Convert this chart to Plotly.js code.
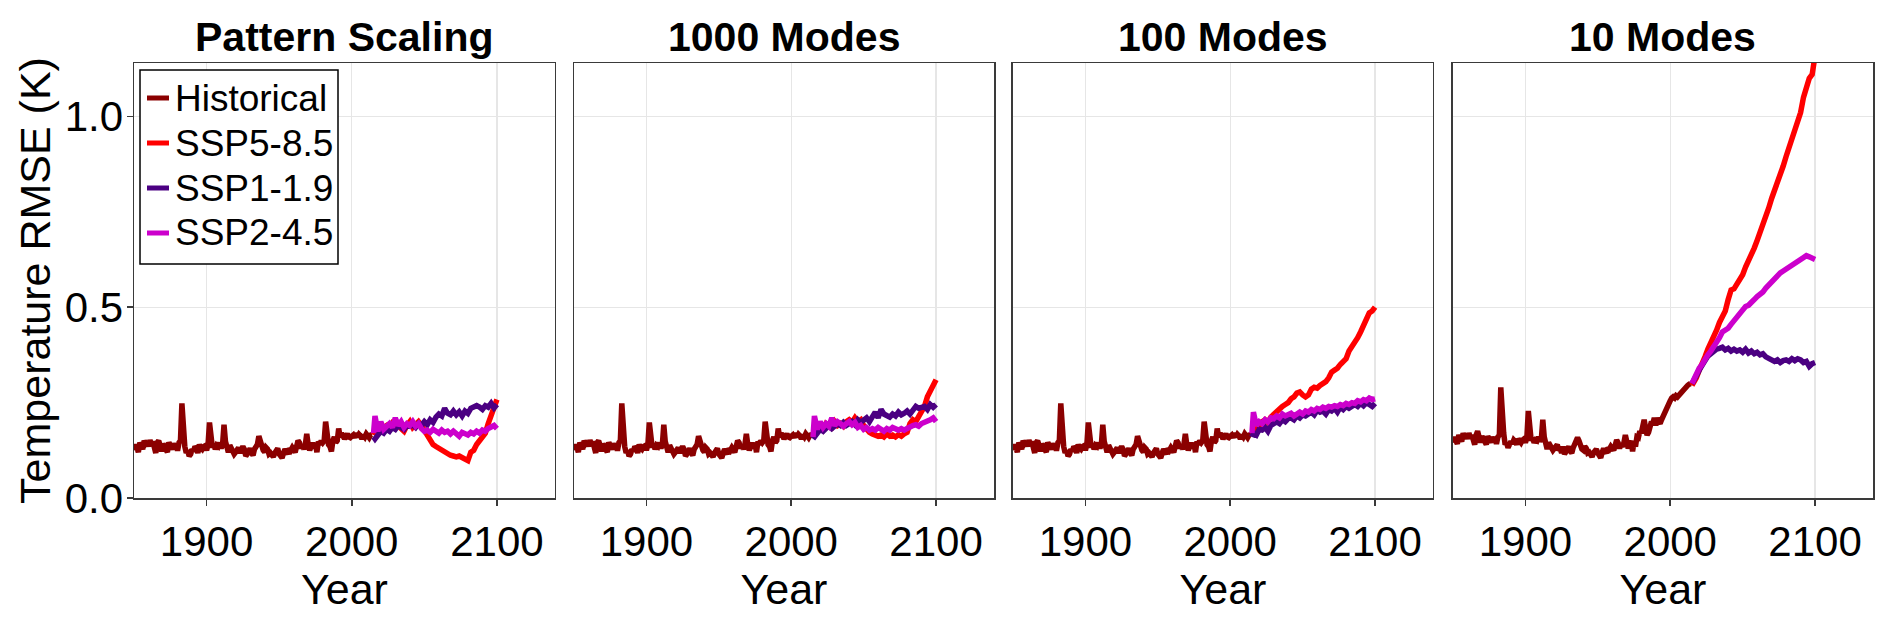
<!DOCTYPE html>
<html>
<head>
<meta charset="utf-8">
<script src="https://cdn.plot.ly/plotly-3.0.1.min.js"></script>
<style>
  html, body { margin: 0; padding: 0; background: #ffffff; }
  #chart { width: 1892px; height: 620px; }
</style>
</head>
<body>
<div id="chart"></div>
<script>
// ---------------- DATA ----------------
const panelTitles = ["Pattern Scaling", "1000 Modes", "100 Modes", "10 Modes"];
const seriesNames = ["Historical", "SSP5-8.5", "SSP1-1.9", "SSP2-4.5"];

const histYears = [
  1850,1851,1852,1853,1854,1855,1856,1857,1858,1859,
  1860,1861,1862,1863,1864,1865,1866,1867,1868,1869,
  1870,1871,1872,1873,1874,1875,1876,1877,1878,1879,
  1880,1881,1882,1883,1884,1885,1886,1887,1888,1889,
  1890,1891,1892,1893,1894,1895,1896,1897,1898,1899,
  1900,1901,1902,1903,1904,1905,1906,1907,1908,1909,
  1910,1911,1912,1913,1914,1915,1916,1917,1918,1919,
  1920,1921,1922,1923,1924,1925,1926,1927,1928,1929,
  1930,1931,1932,1933,1934,1935,1936,1937,1938,1939,
  1940,1941,1942,1943,1944,1945,1946,1947,1948,1949,
  1950,1951,1952,1953,1954,1955,1956,1957,1958,1959,
  1960,1961,1962,1963,1964,1965,1966,1967,1968,1969,
  1970,1971,1972,1973,1974,1975,1976,1977,1978,1979,
  1980,1981,1982,1983,1984,1985,1986,1987,1988,1989,
  1990,1991,1992,1993,1994,1995,1996,1997,1998,1999,
  2000,2001,2002,2003,2004,2005,2006,2007,2008,2009,
  2010,2011,2012,2013,2014
];

// Historical RMSE (Pattern Scaling, 1000 Modes, 100 Modes look identical)
const historicalMain = [
  0.125,0.140,0.132,0.120,0.145,0.138,0.128,0.150,0.142,0.147,
  0.135,0.152,0.140,0.148,0.125,0.118,0.145,0.150,0.138,0.122,
  0.142,0.135,0.128,0.120,0.146,0.138,0.127,0.143,0.132,0.140,
  0.124,0.145,0.150,0.248,0.170,0.135,0.118,0.125,0.110,0.115,
  0.128,0.122,0.135,0.130,0.118,0.140,0.132,0.128,0.135,0.137,
  0.125,0.140,0.198,0.150,0.132,0.142,0.128,0.138,0.135,0.145,
  0.130,0.140,0.192,0.148,0.128,0.120,0.138,0.130,0.125,0.115,
  0.120,0.128,0.132,0.118,0.125,0.135,0.128,0.110,0.115,0.125,
  0.130,0.118,0.112,0.128,0.135,0.140,0.162,0.148,0.130,0.125,
  0.120,0.132,0.128,0.115,0.118,0.112,0.108,0.118,0.125,0.130,
  0.115,0.110,0.105,0.118,0.128,0.122,0.115,0.130,0.125,0.132,
  0.128,0.120,0.135,0.150,0.145,0.130,0.138,0.128,0.140,0.168,
  0.140,0.125,0.135,0.145,0.130,0.142,0.120,0.148,0.140,0.150,
  0.145,0.150,0.200,0.168,0.140,0.135,0.122,0.150,0.160,0.145,
  0.150,0.182,0.160,0.170,0.165,0.155,0.162,0.168,0.160,0.158,
  0.162,0.165,0.158,0.170,0.160,0.167,0.163,0.155,0.165,0.160,
  0.168,0.162,0.158,0.165,0.166
];

// Historical RMSE, 10 Modes
const historical10 = [
  0.145,0.160,0.150,0.142,0.165,0.158,0.148,0.170,0.160,0.165,
  0.155,0.170,0.158,0.165,0.145,0.140,0.165,0.175,0.160,0.145,
  0.162,0.155,0.148,0.140,0.162,0.155,0.145,0.160,0.150,0.158,
  0.142,0.160,0.165,0.290,0.200,0.170,0.140,0.145,0.132,0.138,
  0.148,0.142,0.152,0.148,0.140,0.155,0.150,0.145,0.152,0.155,
  0.145,0.158,0.228,0.168,0.150,0.158,0.145,0.152,0.150,0.160,
  0.148,0.155,0.205,0.160,0.140,0.128,0.145,0.138,0.132,0.125,
  0.130,0.136,0.140,0.125,0.130,0.118,0.135,0.115,0.120,0.130,
  0.135,0.122,0.118,0.132,0.140,0.145,0.158,0.150,0.135,0.128,
  0.125,0.135,0.130,0.118,0.120,0.112,0.108,0.118,0.125,0.128,
  0.118,0.110,0.105,0.120,0.130,0.122,0.118,0.132,0.128,0.135,
  0.132,0.125,0.138,0.152,0.145,0.130,0.140,0.135,0.145,0.165,
  0.148,0.130,0.140,0.150,0.122,0.148,0.135,0.160,0.158,0.175,
  0.170,0.198,0.205,0.182,0.165,0.172,0.185,0.200,0.195,0.210,
  0.190,0.210,0.200,0.195,0.205,0.215,0.225,0.235,0.245,0.250,
  0.255,0.262,0.265,0.262,0.268,0.265,0.270,0.272,0.275,0.280,
  0.285,0.290,0.295,0.298,0.300
];

const scenYears = [
  2015,2016,2018,2020,2022,2024,2026,2028,2030,2032,2034,
  2036,2038,2040,2042,2044,2046,2048,2050,2052,2054,2056,
  2058,2060,2062,2064,2066,2068,2070,2072,2074,2076,2078,
  2080,2082,2084,2086,2088,2090,2092,2094,2096,2098,2100
];

// Pattern Scaling
const psSSP585 = [
  0.165,0.175,0.190,0.180,0.185,0.190,0.178,0.195,0.188,0.190,0.182,
  0.175,0.190,0.200,0.185,0.195,0.200,0.190,0.178,0.165,0.150,0.140,
  0.135,0.130,0.125,0.118,0.115,0.112,0.110,0.108,0.110,0.105,0.100,
  0.098,0.120,0.125,0.140,0.150,0.162,0.170,0.195,0.220,0.245,0.258
];
const psSSP119 = [
  0.160,0.155,0.165,0.175,0.170,0.180,0.175,0.185,0.180,0.190,0.185,
  0.180,0.190,0.188,0.192,0.185,0.195,0.190,0.200,0.192,0.205,0.198,
  0.212,0.220,0.215,0.235,0.222,0.218,0.228,0.218,0.226,0.215,0.228,
  0.222,0.235,0.240,0.242,0.238,0.232,0.242,0.238,0.248,0.236,0.245
];
const psSSP245 = [
  0.170,0.215,0.175,0.200,0.180,0.190,0.195,0.185,0.210,0.190,0.200,
  0.185,0.195,0.190,0.200,0.188,0.195,0.182,0.175,0.178,0.172,0.180,
  0.175,0.170,0.178,0.172,0.175,0.168,0.175,0.170,0.162,0.172,0.168,
  0.165,0.172,0.168,0.175,0.170,0.178,0.175,0.182,0.185,0.190,0.182
];

// 1000 Modes
const m1000SSP585 = [
  0.170,0.175,0.185,0.190,0.180,0.195,0.190,0.185,0.200,0.190,0.195,
  0.188,0.200,0.205,0.198,0.210,0.200,0.205,0.190,0.180,0.172,0.168,
  0.165,0.162,0.165,0.160,0.168,0.162,0.165,0.160,0.166,0.162,0.168,
  0.172,0.195,0.205,0.200,0.215,0.225,0.240,0.265,0.282,0.295,0.310
];
const m1000SSP119 = [
  0.155,0.160,0.175,0.180,0.175,0.185,0.190,0.182,0.188,0.195,0.190,
  0.198,0.190,0.195,0.200,0.192,0.205,0.198,0.205,0.210,0.200,0.215,
  0.225,0.210,0.232,0.220,0.215,0.212,0.220,0.215,0.225,0.218,0.222,
  0.228,0.220,0.232,0.240,0.235,0.238,0.240,0.232,0.245,0.238,0.245
];
const m1000SSP245 = [
  0.160,0.215,0.180,0.200,0.185,0.195,0.188,0.210,0.190,0.200,0.195,
  0.188,0.195,0.200,0.192,0.198,0.185,0.190,0.180,0.185,0.178,0.182,
  0.178,0.185,0.180,0.175,0.182,0.178,0.185,0.180,0.178,0.182,0.178,
  0.182,0.188,0.190,0.192,0.188,0.195,0.198,0.200,0.205,0.210,0.200
];

// 100 Modes
const m100SSP585 = [
  0.165,0.170,0.182,0.190,0.200,0.205,0.198,0.212,0.220,0.228,0.235,
  0.240,0.245,0.250,0.260,0.265,0.275,0.278,0.270,0.265,0.270,0.285,
  0.290,0.288,0.295,0.300,0.305,0.315,0.330,0.335,0.340,0.350,0.360,
  0.365,0.385,0.395,0.405,0.420,0.435,0.450,0.465,0.485,0.490,0.500
];
const m100SSP119 = [
  0.160,0.170,0.165,0.180,0.178,0.185,0.175,0.190,0.195,0.200,0.195,
  0.205,0.200,0.208,0.210,0.205,0.215,0.210,0.218,0.215,0.220,0.225,
  0.218,0.230,0.225,0.228,0.220,0.232,0.228,0.235,0.225,0.238,0.232,
  0.240,0.235,0.242,0.245,0.240,0.248,0.242,0.250,0.245,0.240,0.248
];
const m100SSP245 = [
  0.170,0.225,0.190,0.200,0.195,0.205,0.200,0.210,0.208,0.215,0.210,
  0.220,0.215,0.218,0.222,0.215,0.220,0.225,0.220,0.228,0.225,0.232,
  0.228,0.235,0.232,0.238,0.235,0.240,0.238,0.242,0.240,0.245,0.242,
  0.248,0.245,0.250,0.248,0.255,0.252,0.258,0.255,0.262,0.258,0.260
];

// 10 Modes
const m10SSP585 = [
  0.295,0.300,0.315,0.335,0.350,0.370,0.390,0.405,0.420,0.440,0.460,
  0.475,0.490,0.520,0.545,0.548,0.560,0.570,0.585,0.605,0.620,0.640,
  0.655,0.675,0.695,0.715,0.740,0.760,0.785,0.805,0.820,0.840,0.870,
  0.895,0.920,0.945,0.965,0.985,1.010,1.050,1.075,1.100,1.110,1.160
];
const m10SSP119 = [
  0.300,0.305,0.320,0.335,0.345,0.360,0.372,0.378,0.385,0.390,0.392,
  0.395,0.388,0.392,0.385,0.390,0.385,0.388,0.382,0.390,0.380,0.385,
  0.378,0.382,0.375,0.378,0.370,0.365,0.360,0.358,0.362,0.355,0.360,
  0.362,0.358,0.365,0.360,0.365,0.362,0.355,0.358,0.345,0.352,0.355
];
const m10SSP245 = [
  0.300,0.310,0.325,0.340,0.350,0.365,0.375,0.385,0.395,0.410,0.420,
  0.435,0.440,0.445,0.455,0.465,0.478,0.488,0.495,0.502,0.505,0.515,
  0.520,0.528,0.532,0.540,0.550,0.558,0.570,0.578,0.582,0.590,0.595,
  0.600,0.605,0.610,0.615,0.620,0.625,0.630,0.635,0.632,0.628,0.625
];

const xTickVals = [1900, 2000, 2100];
const yTickVals = [0, 0.5, 1.0];
const yTickText = ["0.0", "0.5", "1.0"];

// ---------------- STYLE ----------------
const colors = ["#8B0000", "#FF0000", "#4B0082", "#CC00CC"];
const FONT = "Liberation Sans, Arial, Helvetica, sans-serif";
const AXIS_COLOR = "#3a3a3a";

const panelData = [
  [historicalMain, psSSP585, psSSP119, psSSP245],
  [historicalMain, m1000SSP585, m1000SSP119, m1000SSP245],
  [historicalMain, m100SSP585, m100SSP119, m100SSP245],
  [historical10, m10SSP585, m10SSP119, m10SSP245]
];

// plot area: left 134, right 19, top 63, bottom 122  -> 1739 x 435
const PW = 1739, PH = 435, PL = 134, PT = 63;
const px = v => (v - PL) / PW;
const py = v => 1 - (v - PT) / PH;
const xDomains = [[0, 0.24209], [0.25302, 0.49454], [0.50546, 0.74698], [0.75848, 1]];

const traces = [];
panelData.forEach((series, p) => {
  const xa = p === 0 ? "x" : "x" + (p + 1);
  const ya = p === 0 ? "y" : "y" + (p + 1);
  series.forEach((vals, s) => {
    traces.push({
      type: "scatter",
      mode: "lines",
      x: s === 0 ? histYears : scenYears,
      y: vals,
      name: seriesNames[s],
      showlegend: false,
      xaxis: xa,
      yaxis: ya,
      line: { color: colors[s], width: 5.5, shape: "linear" }
    });
  });
});

const layout = {
  width: 1892,
  height: 620,
  paper_bgcolor: "#ffffff",
  plot_bgcolor: "#ffffff",
  margin: { l: PL, r: 19, t: PT, b: 122, pad: 0 },
  font: { family: FONT, size: 42, color: "#000000" },
  showlegend: false,
  annotations: [],
  shapes: [],
  hovermode: false
};

for (let p = 0; p < 4; p++) {
  const xk = p === 0 ? "xaxis" : "xaxis" + (p + 1);
  const yk = p === 0 ? "yaxis" : "yaxis" + (p + 1);
  const yname = p === 0 ? "y" : "y" + (p + 1);
  const xname = p === 0 ? "x" : "x" + (p + 1);
  layout[xk] = {
    domain: xDomains[p],
    anchor: yname,
    range: [1850, 2140],
    tickmode: "array",
    tickvals: xTickVals,
    ticks: "outside",
    ticklen: 6,
    tickwidth: 1.5,
    tickcolor: AXIS_COLOR,
    showline: true,
    mirror: true,
    linecolor: AXIS_COLOR,
    linewidth: 1.5,
    showgrid: true,
    gridcolor: "#e6e6e6",
    gridwidth: 1.2,
    zeroline: false,
    tickfont: { family: FONT, size: 42, color: "#000000" },
    title: { text: "Year", font: { family: FONT, size: 43, color: "#000000" }, standoff: 6 },
    automargin: false
  };
  layout[yk] = {
    domain: [0, 1],
    anchor: xname,
    range: [0, 1.14],
    tickmode: "array",
    tickvals: yTickVals,
    ticktext: yTickText,
    ticks: p === 0 ? "outside" : "",
    ticklen: 6,
    tickwidth: 1.5,
    tickcolor: AXIS_COLOR,
    showticklabels: p === 0,
    ticklabelstandoff: -5,
    showline: true,
    mirror: true,
    linecolor: AXIS_COLOR,
    linewidth: 1.5,
    showgrid: true,
    gridcolor: "#e6e6e6",
    gridwidth: 1.2,
    zeroline: false,
    tickfont: { family: FONT, size: 42, color: "#000000" },
    title: p === 0 ? { text: "Temperature RMSE (K)", font: { family: FONT, size: 43, color: "#000000" }, standoff: 0 } : { text: "" },
    automargin: false
  };
  layout.annotations.push({
    text: "<b>" + panelTitles[p] + "</b>",
    xref: "paper", yref: "paper",
    x: (xDomains[p][0] + xDomains[p][1]) / 2,
    y: 1.0609,
    xanchor: "center", yanchor: "middle",
    showarrow: false,
    font: { family: FONT, size: 41, color: "#000000" }
  });
}

// ---- legend (panel 1, top-left), drawn as box + line samples + text ----
layout.shapes.push({
  type: "rect", xref: "paper", yref: "paper",
  x0: px(140), x1: px(338), y0: py(264), y1: py(70),
  fillcolor: "#ffffff", line: { color: "#000000", width: 1.5 }, layer: "above"
});
const legendRowY = [98, 143, 188, 233];
seriesNames.forEach((name, s) => {
  layout.shapes.push({
    type: "line", xref: "paper", yref: "paper",
    x0: px(147), x1: px(169), y0: py(legendRowY[s]), y1: py(legendRowY[s]),
    line: { color: colors[s], width: 5 }, layer: "above"
  });
  layout.annotations.push({
    text: name, xref: "paper", yref: "paper",
    x: px(173), y: py(legendRowY[s]),
    xanchor: "left", yanchor: "middle", showarrow: false,
    font: { family: FONT, size: 37, color: "#000000" }
  });
});

Plotly.newPlot("chart", traces, layout, { displayModeBar: false, staticPlot: true });
</script>
</body>
</html>
